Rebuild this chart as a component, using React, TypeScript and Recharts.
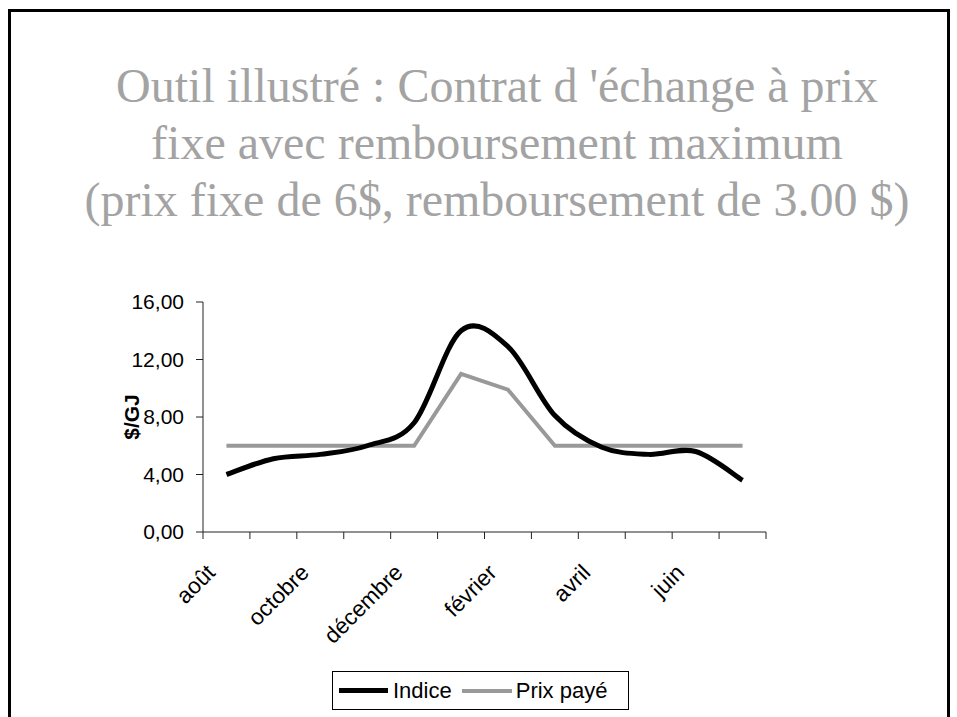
import React from 'react';
import { LineChart, Line, XAxis, YAxis } from 'recharts';

const months = ['août', 'septembre', 'octobre', 'novembre', 'décembre', 'janvier', 'février', 'mars', 'avril', 'mai', 'juin', 'juillet'];
const indice = [4.0, 5.1, 5.4, 6.0, 7.6, 14.0, 12.9, 8.1, 5.9, 5.4, 5.6, 3.6];
const prixPaye = [6, 6, 6, 6, 6, 11.0, 9.9, 6, 6, 6, 6, 6];
const yTicks = [0, 4, 8, 12, 16];
const shownMonthIdx = [0, 2, 4, 6, 8, 10];
const titleLines = [
  "Outil illustré : Contrat d 'échange à prix",
  'fixe avec remboursement maximum',
  '(prix fixe de 6$, remboursement de 3.00 $)',
];

const data = months.map((m, i) => ({ x: i + 0.5, month: m, indice: indice[i], prix: prixPaye[i] }));
const boundaryTicks = months.map((_, i) => i).concat([months.length]);
const labelTicks = shownMonthIdx.map((i) => i + 0.5);

// Catmull-Rom style smoothing (like Excel's smoothed line)
const smoothCurve: any = (context: any) => {
  let xs: number[] = [];
  let ys: number[] = [];
  return {
    areaStart() {},
    areaEnd() {},
    lineStart() {
      xs = [];
      ys = [];
    },
    point(x: number, y: number) {
      xs.push(+x);
      ys.push(+y);
    },
    lineEnd() {
      const n = xs.length;
      if (!n) return;
      context.moveTo(xs[0], ys[0]);
      for (let i = 0; i < n - 1; i++) {
        const a = Math.max(i - 1, 0);
        const d = Math.min(i + 2, n - 1);
        context.bezierCurveTo(
          xs[i] + (xs[i + 1] - xs[a]) / 6,
          ys[i] + (ys[i + 1] - ys[a]) / 6,
          xs[i + 1] - (xs[d] - xs[i]) / 6,
          ys[i + 1] - (ys[d] - ys[i]) / 6,
          xs[i + 1],
          ys[i + 1]
        );
      }
    },
  };
};

const SANS = '"Liberation Sans", Arial, sans-serif';

const EmptyTick = () => <g />;

const MonthTick = (props: any) => {
  const { x, y, payload } = props;
  const label = months[Math.floor(payload.value)];
  return (
    <g transform={`translate(${x - 10},${y + 34}) rotate(-45)`}>
      <text x={0} y={0} textAnchor="end" fill="#000" fontSize={22.5} fontFamily={SANS}>
        {label}
      </text>
    </g>
  );
};

const YLabel = (props: any) => {
  const vb = props.viewBox;
  const cx = vb.x + 8;
  const cy = vb.y + vb.height / 2;
  return (
    <text
      x={cx}
      y={cy}
      transform={`rotate(-90, ${cx}, ${cy})`}
      textAnchor="middle"
      dominantBaseline="central"
      fontWeight="bold"
      fontSize={21}
      fontFamily={SANS}
      fill="#000"
    >
      $/GJ
    </text>
  );
};

export default function App() {
  return (
    <div style={{ position: 'fixed', left: 0, top: 0, width: 957, height: 717, overflow: 'hidden', background: '#fff' }}>
      <div
        style={{
          position: 'absolute',
          left: 8,
          top: 9,
          width: 942,
          height: 800,
          border: '3px solid #000',
          boxSizing: 'border-box',
        }}
      />
      <svg width={957} height={717} style={{ position: 'absolute', left: 0, top: 0 }}>
        {titleLines.map((t, i) => (
          <text
            key={i}
            x={497}
            y={102 + i * 57}
            textAnchor="middle"
            fontFamily='"Liberation Serif", "Times New Roman", serif'
            fontSize={48}
            fill="#a3a3a3"
          >
            {t}
          </text>
        ))}
      </svg>
      <div style={{ position: 'absolute', left: 0, top: 0 }}>
        <LineChart width={957} height={717} data={data} margin={{ top: 302, right: 191, bottom: 77, left: 123 }}>
          <XAxis
            xAxisId="b_lab"
            type="number"
            dataKey="x"
            domain={[0, 12]}
            ticks={labelTicks}
            interval={0}
            axisLine={false}
            tickLine={false}
            tickSize={0}
            tickMargin={0}
            height={100}
            tick={<MonthTick />}
          />
          <XAxis
            xAxisId="a_main"
            type="number"
            dataKey="x"
            domain={[0, 12]}
            ticks={boundaryTicks}
            interval={0}
            tick={<EmptyTick />}
            tickSize={7}
            height={8}
            stroke="#222"
            axisLine={{ stroke: '#222' }}
            tickLine={{ stroke: '#222' }}
          />
          <YAxis
            type="number"
            domain={[0, 16]}
            ticks={yTicks}
            interval={0}
            width={80}
            tickSize={7}
            tickMargin={12}
            tickFormatter={(v: number) => v.toFixed(2).replace('.', ',')}
            tick={{ fill: '#000', fontSize: 21, fontFamily: SANS }}
            axisLine={{ stroke: '#222' }}
            tickLine={{ stroke: '#222' }}
            label={<YLabel />}
          />
          <Line
            xAxisId="a_main"
            dataKey="prix"
            type="linear"
            stroke="#999999"
            strokeWidth={4}
            dot={false}
            activeDot={false}
            isAnimationActive={false}
          />
          <Line
            xAxisId="a_main"
            dataKey="indice"
            type={smoothCurve}
            stroke="#000"
            strokeWidth={5}
            dot={false}
            activeDot={false}
            isAnimationActive={false}
          />
        </LineChart>
      </div>
      <div
        style={{
          position: 'absolute',
          left: 332,
          top: 671,
          width: 297,
          height: 39,
          border: '1px solid #000',
          boxSizing: 'border-box',
          display: 'flex',
          alignItems: 'center',
          paddingLeft: 6,
          fontFamily: SANS,
          fontSize: 22,
          color: '#000',
          whiteSpace: 'nowrap',
        }}
      >
        <span style={{ display: 'inline-block', width: 49, height: 5, background: '#000' }} />
        <span style={{ marginLeft: 5 }}>Indice</span>
        <span style={{ display: 'inline-block', width: 50, height: 4, background: '#999999', marginLeft: 10 }} />
        <span style={{ marginLeft: 4 }}>Prix payé</span>
      </div>
    </div>
  );
}
